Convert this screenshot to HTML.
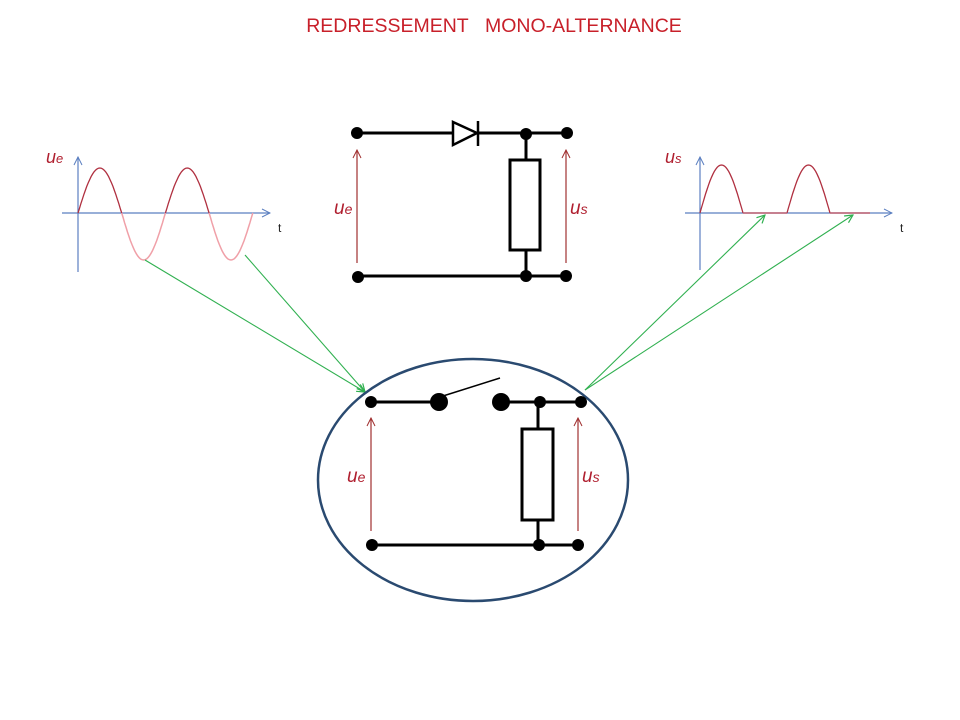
<!DOCTYPE html>
<html><head><meta charset="utf-8"><style>html,body{margin:0;padding:0;background:#fff;}svg{display:block}</style></head>
<body>
<svg id="s" width="960" height="720" viewBox="0 0 960 720" xmlns="http://www.w3.org/2000/svg" font-family="Liberation Sans, sans-serif">
<defs>
<marker id="ab" markerWidth="10" markerHeight="10" refX="9" refY="5" orient="auto" markerUnits="userSpaceOnUse"><path d="M1,1 L9,5 L1,9" fill="none" stroke="#5b7fc0" stroke-width="1"/></marker>
<marker id="ar" markerWidth="10" markerHeight="10" refX="9" refY="5" orient="auto" markerUnits="userSpaceOnUse"><path d="M1,1 L9,5 L1,9" fill="none" stroke="#a03030" stroke-width="1"/></marker>
<marker id="ag" markerWidth="10" markerHeight="10" refX="9" refY="5" orient="auto" markerUnits="userSpaceOnUse"><path d="M1,1 L9,5 L1,9" fill="none" stroke="#30b050" stroke-width="1.2"/></marker>
</defs>
<text x="494" y="32" text-anchor="middle" font-size="19.5" fill="#c8202a">REDRESSEMENT&#160;&#160; MONO-ALTERNANCE</text>

<line x1="78" y1="272" x2="78" y2="157" stroke="#5b7fc0" stroke-width="1.2" marker-end="url(#ab)"/>
<line x1="62" y1="213" x2="270" y2="213" stroke="#5b7fc0" stroke-width="1.2" marker-end="url(#ab)"/>
<path id="pos1" fill="none" stroke="#b03040" stroke-width="1.3"/>
<path id="neg1" fill="none" stroke="#f0a0a8" stroke-width="1.5"/>
<text x="46" y="163" font-size="18" font-style="italic" fill="#b02030">u<tspan font-size="13">e</tspan></text>
<text x="278" y="232" font-size="12" fill="#222">t</text>

<line x1="700" y1="270" x2="700" y2="157" stroke="#5b7fc0" stroke-width="1.2" marker-end="url(#ab)"/>
<line x1="685" y1="213" x2="892" y2="213" stroke="#5b7fc0" stroke-width="1.2" marker-end="url(#ab)"/>
<path id="pos2" fill="none" stroke="#b03040" stroke-width="1.3"/>
<line x1="743" y1="213" x2="787" y2="213" stroke="#c06070" stroke-width="1.5"/>
<line x1="830" y1="213" x2="870" y2="213" stroke="#c06070" stroke-width="1.5"/>
<text x="665" y="163" font-size="18" font-style="italic" fill="#b02030">u<tspan font-size="13">s</tspan></text>
<text x="900" y="232" font-size="12" fill="#222">t</text>

<g stroke="#000" stroke-width="3" fill="none">
<line x1="357" y1="133" x2="453" y2="133"/>
<line x1="478" y1="133" x2="567" y2="133"/>
<line x1="358" y1="276" x2="566" y2="276"/>
<line x1="526" y1="133" x2="526" y2="160"/>
<line x1="526" y1="250" x2="526" y2="276"/>
<rect x="510" y="160" width="30" height="90" fill="#fff"/>
<path d="M453,122 L477,133 L453,145 Z" fill="#fff" stroke-width="2.5"/>
<line x1="478" y1="121" x2="478" y2="146" stroke-width="2.5"/>
</g>
<g fill="#000">
<circle cx="357" cy="133" r="6"/><circle cx="526" cy="134" r="6"/><circle cx="567" cy="133" r="6"/>
<circle cx="358" cy="277" r="6"/><circle cx="526" cy="276" r="6"/><circle cx="566" cy="276" r="6"/>
</g>
<line x1="357" y1="263" x2="357" y2="150" stroke="#a03030" stroke-width="1.2" marker-end="url(#ar)"/>
<line x1="566" y1="263" x2="566" y2="150" stroke="#a03030" stroke-width="1.2" marker-end="url(#ar)"/>
<text x="334" y="214" font-size="19" font-style="italic" fill="#b02030">u<tspan font-size="14">e</tspan></text>
<text x="570" y="214" font-size="19" font-style="italic" fill="#b02030">u<tspan font-size="14">s</tspan></text>

<g stroke="#30b050" stroke-width="1.1" marker-end="url(#ag)">
<line x1="145" y1="260" x2="365" y2="392"/>
<line x1="245" y1="255" x2="365" y2="392"/>
<line x1="585" y1="390" x2="765" y2="215"/>
<line x1="585" y1="390" x2="853" y2="215"/>
</g>

<ellipse cx="473" cy="480" rx="155" ry="121" fill="none" stroke="#2a4a70" stroke-width="2.5"/>
<g stroke="#000" stroke-width="3" fill="none">
<line x1="371" y1="402" x2="438" y2="402"/>
<line x1="502" y1="402" x2="580" y2="402"/>
<line x1="371" y1="545" x2="580" y2="545"/>
<line x1="538" y1="402" x2="538" y2="428"/>
<line x1="538" y1="520" x2="538" y2="545"/>
<rect x="522" y="429" width="31" height="91" fill="#fff"/>
<line x1="443" y1="396" x2="500" y2="378" stroke-width="1.5"/>
</g>
<g fill="#000">
<circle cx="371" cy="402" r="6"/><circle cx="439" cy="402" r="9"/><circle cx="501" cy="402" r="9"/>
<circle cx="540" cy="402" r="6"/><circle cx="581" cy="402" r="6"/>
<circle cx="372" cy="545" r="6"/><circle cx="539" cy="545" r="6"/><circle cx="578" cy="545" r="6"/>
</g>
<line x1="371" y1="531" x2="371" y2="418" stroke="#a03030" stroke-width="1.2" marker-end="url(#ar)"/>
<line x1="578" y1="531" x2="578" y2="418" stroke="#a03030" stroke-width="1.2" marker-end="url(#ar)"/>
<text x="347" y="482" font-size="19" font-style="italic" fill="#b02030">u<tspan font-size="14">e</tspan></text>
<text x="582" y="482" font-size="19" font-style="italic" fill="#b02030">u<tspan font-size="14">s</tspan></text>
</svg>
<script>
function half(x0,L,A,y0,up){var d="";for(var i=0;i<=30;i++){var x=x0+L*i/30,y=y0-(up?1:-1)*A*Math.sin(Math.PI*i/30);d+=(i?"L":"M")+x.toFixed(1)+","+y.toFixed(1);}return d;}
var L=43.7;
document.getElementById("pos1").setAttribute("d",half(78,L,45,213,1)+half(78+2*L,L,45,213,1));
document.getElementById("neg1").setAttribute("d",half(78+L,L,47,213,0)+half(78+3*L,L,47,213,0));
document.getElementById("pos2").setAttribute("d",half(700,43,48,213,1)+half(787,43,48,213,1));
</script>
</body></html>
